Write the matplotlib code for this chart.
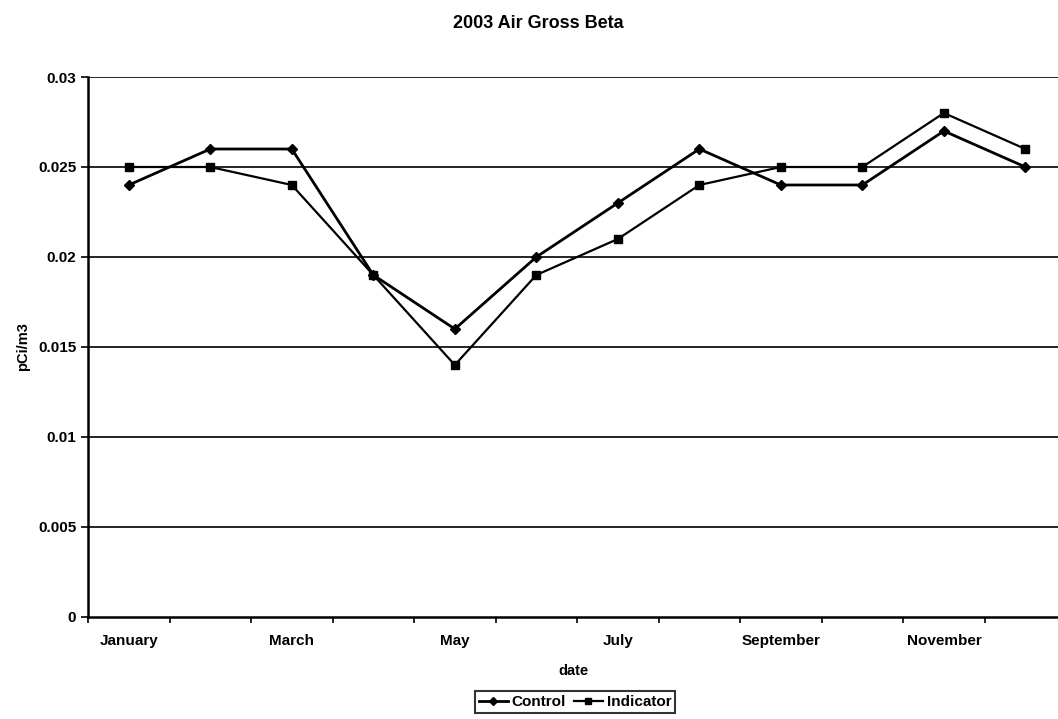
import numpy as np
import matplotlib
matplotlib.use('Agg')
import matplotlib.pyplot as plt

# datos
meses = ['January', 'February', 'March', 'April', 'May', 'June', 'July',
         'August', 'September', 'October', 'November', 'December']
control = [0.024, 0.026, 0.026, 0.019, 0.016, 0.020, 0.023, 0.026, 0.024, 0.024, 0.027, 0.025]
indicator = [0.025, 0.025, 0.024, 0.019, 0.014, 0.019, 0.021, 0.024, 0.025, 0.025, 0.028, 0.026]
etiquetas_y = [0, 0.005, 0.01, 0.015, 0.02, 0.025, 0.03]

plt.rcParams['font.family'] = ['Liberation Sans', 'DejaVu Sans']
plt.rcParams['font.weight'] = 'bold'

fig = plt.figure(figsize=(10.58, 7.19), dpi=100)
ax = fig.add_axes([0.0832, 0.1419, 0.9168, 0.751])

x = np.arange(len(meses))
ax.plot(x, control, color='black', lw=2, marker='D', ms=5.5, label='Control')
ax.plot(x, indicator, color='black', lw=1.6, marker='s', ms=6, label='Indicator')

for v in etiquetas_y[1:]:
    ax.axhline(v, color='black', lw=1.2, zorder=0)

ax.set_ylim(0, 0.03)
ax.set_xlim(-0.5, 11.4)
ax.set_yticks(etiquetas_y)
ax.set_yticklabels(['0', '0.005', '0.01', '0.015', '0.02', '0.025', '0.03'])
ax.set_xticks(x[::2])
ax.set_xticklabels(meses[::2])
# marcas entre categorias como en excel
ax.set_xticks(np.arange(-0.5, 11.5, 1.0), minor=True)
ax.tick_params(axis='both', labelsize=11, length=5, width=1.2)
ax.tick_params(axis='x', which='major', length=0, pad=12)
ax.tick_params(axis='x', which='minor', length=4, width=1.2)

for s in ['top', 'right']:
    ax.spines[s].set_visible(False)
ax.spines['left'].set_linewidth(1.8)
ax.spines['bottom'].set_linewidth(1.8)

fig.text(0.5085, 0.968, '2003 Air Gross Beta', fontsize=13, fontweight='bold',
         ha='center', va='center')
ax.set_xlabel('date', fontsize=10.5, fontweight='bold', labelpad=12)
ax.set_ylabel('pCi/m3', fontsize=10.5, fontweight='bold', labelpad=6)

leg = fig.legend(loc='center', bbox_to_anchor=(0.5435, 0.0235), ncol=2,
                 fontsize=11, frameon=True, fancybox=False, edgecolor='black',
                 handlelength=1.9, columnspacing=0.5, handletextpad=0.25,
                 borderpad=0.25, markerscale=0.7)
leg.get_frame().set_linewidth(1.5)

fig.savefig('out.png', dpi=100)
